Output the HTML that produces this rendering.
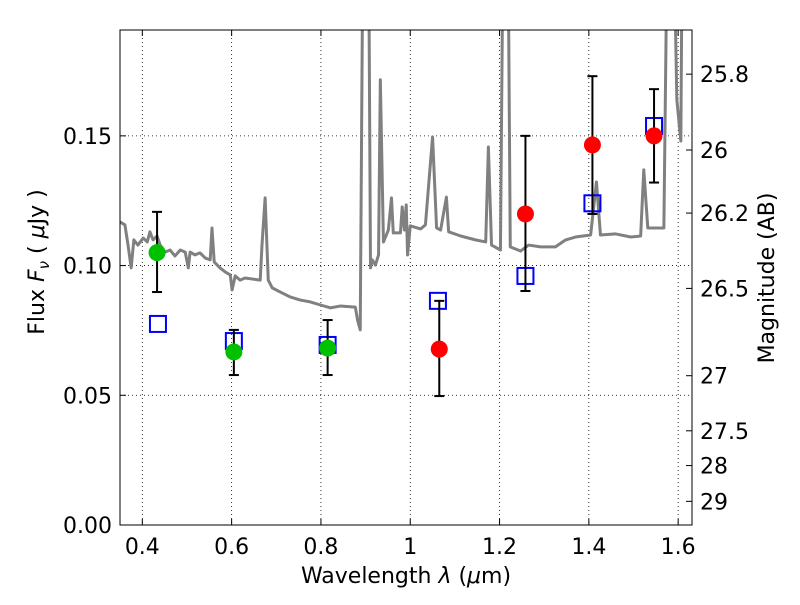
<!DOCTYPE html>
<html><head><meta charset="utf-8"><style>
body{margin:0;background:#fff;}
svg text{font-family:"DejaVu Sans","Liberation Sans",sans-serif;font-size:22px;fill:#000;}
</style></head><body>
<svg id="chart" width="800" height="600" xmlns="http://www.w3.org/2000/svg"></svg>
<script>
const specLam=[0.350,0.361,0.368,0.375,0.381,0.390,0.402,0.411,0.417,0.424,0.433,0.440,0.451,0.462,0.473,0.485,0.496,0.503,0.507,0.518,0.529,0.541,0.552,0.556,0.561,0.574,0.586,0.597,0.601,0.608,0.619,0.630,0.664,0.668,0.675,0.682,0.691,0.709,0.731,0.754,0.776,0.799,0.821,0.843,0.877,0.882,0.888,0.895,0.900,0.906,0.911,0.915,0.922,0.929,0.933,0.940,0.951,0.958,0.962,0.978,0.982,0.987,0.991,0.994,1.000,1.023,1.034,1.050,1.059,1.068,1.081,1.086,1.113,1.146,1.169,1.175,1.182,1.202,1.209,1.218,1.224,1.247,1.265,1.292,1.325,1.348,1.370,1.404,1.417,1.426,1.460,1.494,1.516,1.523,1.532,1.568,1.577,1.588,1.597,1.606,1.610,1.632];
const specFlux=[0.1168,0.1157,0.1079,0.0991,0.1099,0.1079,0.1106,0.1091,0.1130,0.1099,0.1114,0.1079,0.1052,0.1060,0.1037,0.1060,0.1052,0.0991,0.1052,0.1041,0.1049,0.1029,0.1022,0.1145,0.1014,0.0991,0.0975,0.0964,0.0906,0.0960,0.0944,0.0952,0.0944,0.1079,0.1261,0.0944,0.0914,0.0898,0.0879,0.0867,0.0860,0.0848,0.0837,0.0844,0.0840,0.0790,0.0752,0.25,0.25,0.25,0.0991,0.1022,0.1002,0.1041,0.1716,0.1091,0.1137,0.1261,0.1126,0.1126,0.1226,0.1137,0.1234,0.1041,0.1153,0.1141,0.1157,0.1496,0.1145,0.1137,0.1264,0.1130,0.1114,0.1099,0.1091,0.1457,0.1079,0.1060,0.25,0.25,0.1072,0.1056,0.1079,0.1072,0.1072,0.1099,0.1110,0.1118,0.1322,0.1118,0.1122,0.1110,0.1114,0.1369,0.1145,0.1145,0.25,0.25,0.164,0.148,0.25,0.25];
const greenLam=[0.433,0.605,0.815];
const greenFlux=[0.105,0.0667,0.0682];
const greenErrLo=[0.0898,0.0578,0.0578];
const greenErrHi=[0.1207,0.0752,0.079];
const redLam=[1.065,1.258,1.408,1.546];
const redFlux=[0.0678,0.1199,0.1465,0.150];
const redErrLo=[0.0497,0.0902,0.1199,0.132];
const redErrHi=[0.0864,0.150,0.173,0.168];
const modelLam=[0.435,0.605,0.815,1.062,1.258,1.408,1.546];
const modelFlux=[0.0775,0.0709,0.0694,0.0864,0.096,0.124,0.1538];
const xTicks=[0.4,0.6,0.8,1.0,1.2,1.4,1.6];
const xTickLabels=["0.4","0.6","0.8","1","1.2","1.4","1.6"];
const yTicks=[0,0.05,0.10,0.15];
const yTickLabels=["0.00","0.05","0.10","0.15"];
const magTicks=[25.8,26,26.2,26.5,27,27.5,28,29];
const magTickLabels=["25.8","26","26.2","26.5","27","27.5","28","29"];

const L=120,R=692,T=30,B=525,X0=0.35,X1=1.631,Y0=0,Y1=0.1908;
const sx=v=>L+(v-X0)/(X1-X0)*(R-L);
const sy=v=>B-(v-Y0)/(Y1-Y0)*(B-T);
const magToFlux=m=>Math.pow(10,(23.9-m)/2.5);
const svg=document.getElementById('chart');
const NS='http://www.w3.org/2000/svg';
function mk(tag,attrs,parent){const e=document.createElementNS(NS,tag);for(const k in attrs)e.setAttribute(k,attrs[k]);(parent||svg).appendChild(e);return e;}

const defs=mk('defs',{});
const cp=mk('clipPath',{id:'clip'},defs);
mk('rect',{x:L,y:T,width:R-L,height:B-T},cp);

xTicks.forEach((t,i)=>{
  const g=mk('line',{x1:sx(t),x2:sx(t),y1:T,y2:B,stroke:'#000','stroke-width':0.8,'stroke-dasharray':'1,3'});
  
  
  const tk=mk('line',{x1:sx(t),x2:sx(t),y1:B,y2:B-6,stroke:'#000'});
  
  
  mk('line',{x1:sx(t),x2:sx(t),y1:T,y2:T+6,stroke:'#000'});
  const tx=mk('text',{x:sx(t),y:B+29,'text-anchor':'middle'});
  tx.textContent=xTickLabels[i];
  
  
});
yTicks.forEach((t,i)=>{
  const g=mk('line',{x1:L,x2:R,y1:sy(t),y2:sy(t),stroke:'#000','stroke-width':0.8,'stroke-dasharray':'1,3'});
  
  
  mk('line',{x1:L,x2:L+6,y1:sy(t),y2:sy(t),stroke:'#000'});
  const tx=mk('text',{x:L-8,y:sy(t)+8,'text-anchor':'end'});
  tx.textContent=yTickLabels[i];
  
  
});
magTicks.forEach((m,i)=>{
  const y=sy(magToFlux(m));
  mk('line',{x1:R,x2:R-6,y1:y,y2:y,stroke:'#000'});
  const tx=mk('text',{x:R+8,y:y+8,'text-anchor':'start'});
  tx.textContent=magTickLabels[i];
  
  
});

const gs=mk('g',{'clip-path':'url(#clip)'});
const pl=mk('polyline',{points:specLam.map((l,i)=>sx(l)+','+sy(specFlux[i])).join(' '),fill:'none',stroke:'#808080','stroke-width':3,'stroke-linejoin':'round'},gs);



modelLam.forEach((l,i)=>{
  const r=mk('rect',{x:sx(l)-8,y:sy(modelFlux[i])-8,width:16,height:16,fill:'none',stroke:'#0000ff','stroke-width':2});
  
  
});
function pts(lams,fl,lo,hi,col,name){
  lams.forEach((l,i)=>{
    const x=sx(l);
    mk('line',{x1:x,x2:x,y1:sy(lo[i]),y2:sy(hi[i]),stroke:'#000','stroke-width':2});
    mk('line',{x1:x-5,x2:x+5,y1:sy(lo[i]),y2:sy(lo[i]),stroke:'#000','stroke-width':2});
    mk('line',{x1:x-5,x2:x+5,y1:sy(hi[i]),y2:sy(hi[i]),stroke:'#000','stroke-width':2});
    const c=mk('circle',{cx:x,cy:sy(fl[i]),r:8.5,fill:col});
    
    
  });
}
pts(greenLam,greenFlux,greenErrLo,greenErrHi,'#00c000','observed-point-green');
pts(redLam,redFlux,redErrLo,redErrHi,'#ff0000','observed-point-red');

const fr=mk('rect',{x:L,y:T,width:R-L,height:B-T,fill:'none',stroke:'#000','stroke-width':1});



const xl=mk('text',{x:406,y:583,'text-anchor':'middle'});
xl.innerHTML='Wavelength  <tspan font-style="italic">λ</tspan> (<tspan font-style="italic">μ</tspan>m)';


const yl=mk('text',{x:0,y:0,'text-anchor':'middle',transform:'translate(44,262) rotate(-90)'});
yl.innerHTML='Flux  <tspan font-style="italic">F</tspan><tspan font-style="italic" font-size="15" dy="5">ν</tspan><tspan dy="-5">  (  </tspan><tspan font-style="italic">μ</tspan>Jy )';


const rl=mk('text',{x:0,y:0,'text-anchor':'middle',transform:'translate(774,278) rotate(-90)'});
rl.textContent='Magnitude (AB)';


</script>
</body></html>
